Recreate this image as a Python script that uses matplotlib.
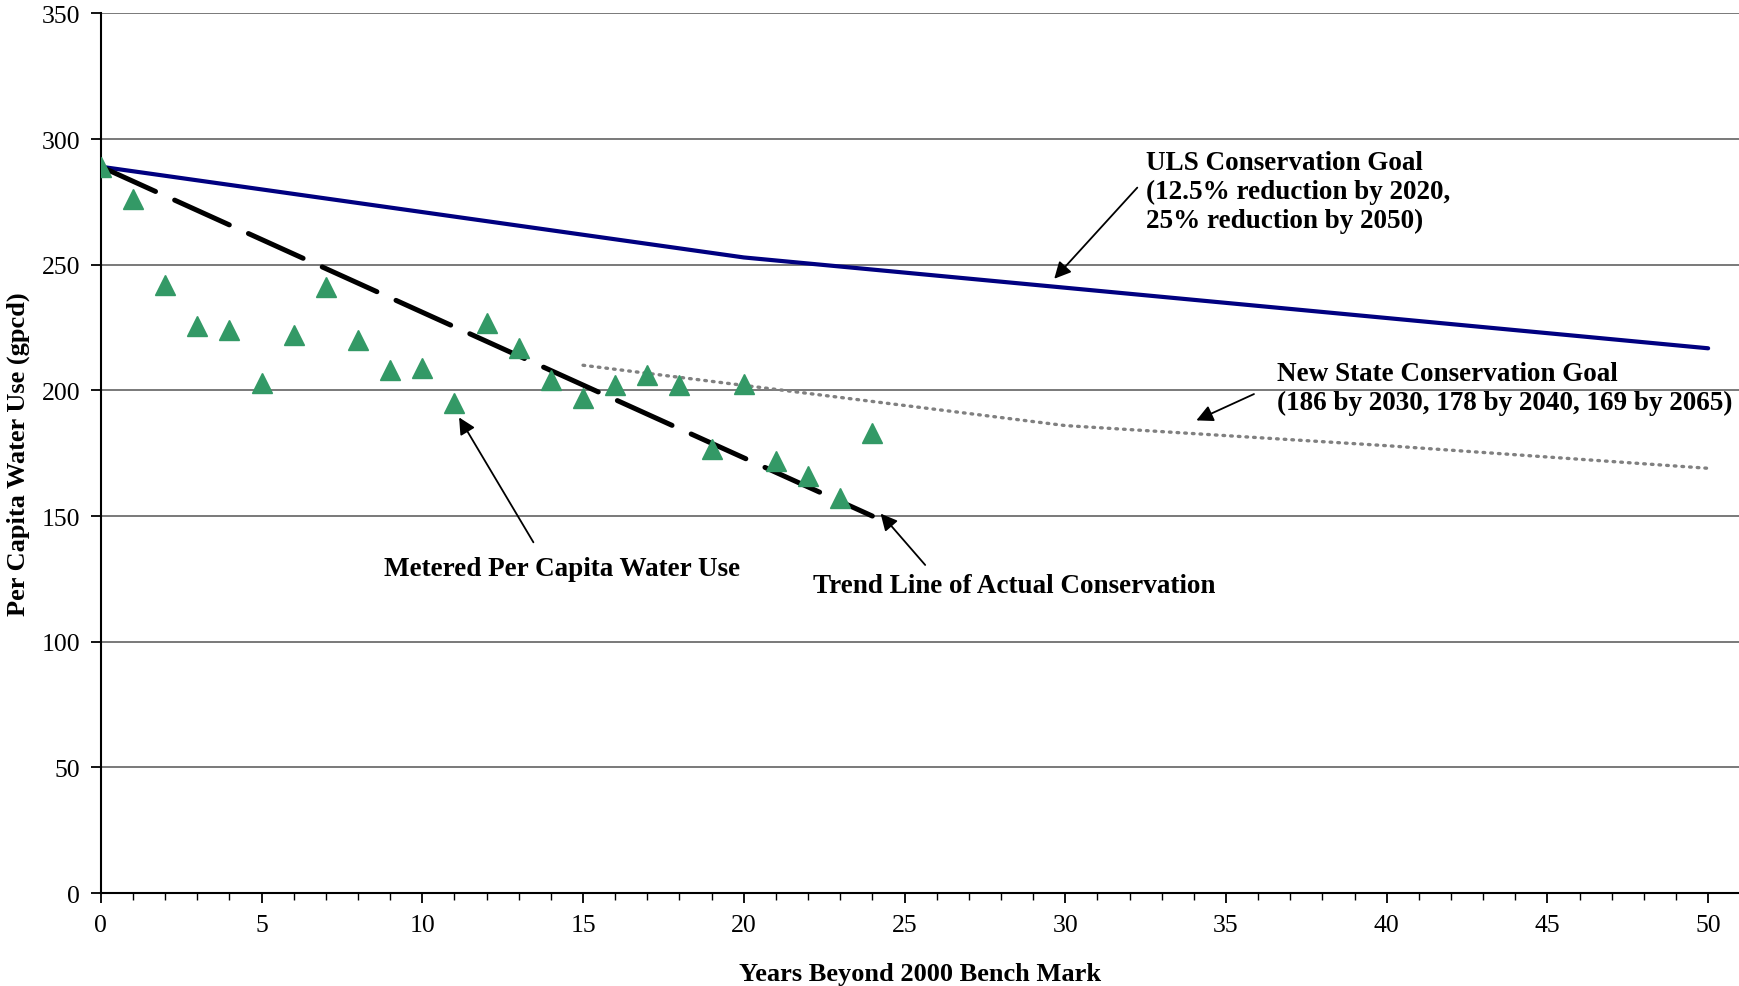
import numpy as np
import matplotlib.pyplot as plt
from matplotlib.ticker import MultipleLocator, FixedLocator

# metered per capita water use (gpcd), years beyond 2000
years = list(range(0, 25))
metered = [289, 276, 242, 225.5, 224, 203, 222, 241, 220, 208, 209, 195,
           227, 217, 204, 197, 202, 206, 202, 176.5, 202.5, 172, 166, 157, 183]

# ULS goal: 12.5% reduction by 2020, 25% by 2050
uls_x = [0, 20, 50]
uls_y = [289, 252.9, 216.75]

# new state goal
state_x = [15, 30, 40, 50]
state_y = [210, 186, 178, 169]

# trend line of actual conservation
trend_x = [0, 24]
trend_y = [289, 150]

plt.rcParams['font.family'] = ['Liberation Serif', 'DejaVu Serif']

fig = plt.figure(figsize=(17.39, 9.87), dpi=100)
ax = fig.add_axes([0.058, 0.0942, 0.942, 0.8912])

ax.plot(uls_x, uls_y, color='#000080', lw=3.0, solid_capstyle='round', zorder=3)
ax.plot(state_x, state_y, color='#808080', lw=2.4, linestyle=(0, (0.5, 1.8)),
        dash_capstyle='round', zorder=3)
ax.plot(trend_x, trend_y, color='black', lw=3.6, dashes=(12, 4.2),
        dash_capstyle='round', zorder=4)
ax.plot(years, metered, linestyle='none', marker='^', ms=15,
        color='#339966', zorder=5)

ax.set_xlim(0, 50.96)
ax.set_ylim(0, 350)
ax.xaxis.set_major_locator(FixedLocator(range(0, 51, 5)))
ax.xaxis.set_minor_locator(FixedLocator(range(0, 51)))
ax.yaxis.set_major_locator(MultipleLocator(50))
ax.grid(axis='y', color='#555555', lw=1.1)
ax.set_axisbelow(True)
for s in ['top', 'right']:
    ax.spines[s].set_visible(False)
ax.spines['left'].set_linewidth(1.5)
ax.spines['bottom'].set_linewidth(1.5)
ax.tick_params(axis='both', which='major', direction='out', length=7, width=1.3,
               labelsize=18.5, pad=8)
ax.tick_params(axis='x', which='minor', direction='out', length=5, width=1.0)

ax.set_xlabel('Years Beyond 2000 Bench Mark', fontsize=19, fontweight='bold', labelpad=19)
ax.set_ylabel('Per Capita Water Use (gpcd)', fontsize=19, fontweight='bold', labelpad=8)

akw = dict(fontsize=19.5, fontweight='bold', linespacing=1.2)
arrow = dict(arrowstyle='-|>', color='black', lw=1.3, mutation_scale=25)

ax.annotate('', xy=(29.6, 243.6), xytext=(32.3, 281.5), arrowprops=arrow)
ax.text(32.5, 295.5, 'ULS Conservation Goal\n(12.5% reduction by 2020,\n25% reduction by 2050)',
        ha='left', va='top', **akw)

ax.annotate('', xy=(34.0, 187.6), xytext=(35.95, 199), arrowprops=arrow)
ax.text(36.6, 211.5, 'New State Conservation Goal\n(186 by 2030, 178 by 2040, 169 by 2065)',
        ha='left', va='top', **akw)

ax.annotate('', xy=(11.1, 190.2), xytext=(13.5, 138.6), arrowprops=arrow)
ax.text(14.35, 129.3, 'Metered Per Capita Water Use', ha='center', va='center', **akw)

ax.annotate('', xy=(24.2, 151.8), xytext=(25.7, 129.7), arrowprops=arrow)
ax.text(28.4, 122.2, 'Trend Line of Actual Conservation', ha='center', va='center', **akw)

fig.savefig('out.png', dpi=100)
